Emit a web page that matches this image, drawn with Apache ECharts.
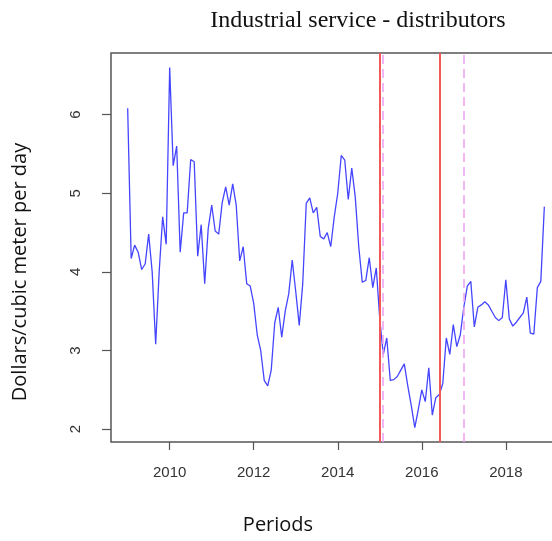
<!DOCTYPE html>
<html>
<head>
<meta charset="utf-8">
<script src="https://cdn.jsdelivr.net/npm/echarts@6/dist/echarts.min.js"></script>
<style>
  html, body { margin: 0; padding: 0; background: #fff; }
  #chart { width: 552px; height: 541px; }
</style>
</head>
<body>
<div id="chart"></div>
<script>
// Monthly price series, January 2009 onwards
const startYear = 2009;
const prices = [
  6.08, 4.17, 4.34, 4.25, 4.03, 4.10, 4.48, 4.00, 3.08, 4.00, 4.70, 4.35,
  6.60, 5.35, 5.60, 4.25, 4.75, 4.75, 5.43, 5.40, 4.20, 4.60, 3.85, 4.55,
  4.85, 4.52, 4.48, 4.88, 5.08, 4.85, 5.12, 4.85, 4.14, 4.32, 3.85, 3.82,
  3.60, 3.20, 3.00, 2.62, 2.55, 2.75, 3.35, 3.55, 3.17, 3.50, 3.72, 4.15,
  3.75, 3.32, 3.85, 4.87, 4.94, 4.75, 4.82, 4.45, 4.42, 4.50, 4.32, 4.70,
  5.00, 5.48, 5.42, 4.92, 5.32, 4.95, 4.32, 3.87, 3.89, 4.18, 3.80, 4.05,
  3.40, 2.95, 3.16, 2.62, 2.63, 2.67, 2.75, 2.83, 2.55, 2.30, 2.02, 2.25,
  2.50, 2.35, 2.78, 2.18, 2.40, 2.44, 2.58, 3.16, 2.95, 3.33, 3.05, 3.20,
  3.55, 3.82, 3.88, 3.30, 3.55, 3.58, 3.62, 3.58, 3.50, 3.42, 3.38, 3.42,
  3.90, 3.40, 3.31, 3.36, 3.42, 3.48, 3.68, 3.22, 3.21, 3.80, 3.88, 4.83
];

// Reference dates (decimal years)
const breakLines = [2015.0, 2016.417];
const markerLines = [2015.083, 2017.0];

const xTicks = [2010, 2012, 2014, 2016, 2018];
const yTicks = [2, 3, 4, 5, 6];

const titleText = 'Industrial service - distributors';
const xTitle = 'Periods';
const yTitle = 'Dollars/cubic meter per day';

const seriesData = prices.map((v, i) => [startYear + i / 12, v]);

// R-style padded ranges (4% on each side)
const xMinData = startYear, xMaxData = startYear + (prices.length - 1) / 12;
const xPad = (xMaxData - xMinData) * 0.04;
const yMinData = Math.min(...prices), yMaxData = Math.max(...prices);
const yPad = (yMaxData - yMinData) * 0.04;

const chart = echarts.init(document.getElementById('chart'), null, { renderer: 'canvas' });

const markData = [];
breakLines.forEach(x => markData.push({ xAxis: x, lineStyle: { color: '#f25a5a', width: 2, type: 'solid' } }));
markerLines.forEach(x => markData.push({ xAxis: x, lineStyle: { color: '#eea6f2', width: 1.6, type: [9, 5] } }));

chart.setOption({
  animation: false,
  backgroundColor: '#ffffff',
  title: {
    text: titleText,
    left: 353, top: 4, textAlign: 'center',
    textStyle: { fontFamily: 'Liberation Serif', fontWeight: 'normal', fontSize: 24, color: '#111' }
  },
  grid: {
    left: 111, top: 53, width: 450, height: 389,
    containLabel: false, outerBoundsMode: 'none',
    show: true, borderColor: '#555', borderWidth: 1.5, backgroundColor: 'transparent'
  },
  graphic: [
    {
      type: 'text', x: 278, y: 525,
      style: { text: xTitle, fontFamily: 'Open Sans', fontSize: 20, fill: '#111', align: 'center', verticalAlign: 'middle' }
    },
    {
      type: 'text', x: 20, y: 272, rotation: Math.PI / 2,
      style: { text: yTitle, fontFamily: 'Open Sans', fontSize: 20, fill: '#111', align: 'center', verticalAlign: 'middle' }
    }
  ],
  xAxis: {
    type: 'value',
    min: xMinData - xPad, max: xMaxData + xPad,
    axisLine: { show: false },
    splitLine: { show: false },
    axisTick: { show: true, inside: false, length: 8, lineStyle: { color: '#555', width: 1.2 }, customValues: xTicks },
    axisLabel: { customValues: xTicks, margin: 23, fontFamily: 'Liberation Sans', fontSize: 15, color: '#333',
      formatter: v => String(v) }
  },
  yAxis: {
    type: 'value',
    min: yMinData - yPad, max: yMaxData + yPad,
    axisLine: { show: false },
    splitLine: { show: false },
    axisTick: { show: true, inside: false, length: 9, lineStyle: { color: '#555', width: 1.2 }, customValues: yTicks },
    axisLabel: { customValues: yTicks, rotate: 90, margin: 28, fontFamily: 'Liberation Sans', fontSize: 15, color: '#333' }
  },
  series: [{
    type: 'line',
    data: seriesData,
    showSymbol: false,
    lineStyle: { color: '#4545ff', width: 1.3 },
    markLine: {
      silent: true, symbol: 'none', label: { show: false },
      data: markData
    }
  }]
});
</script>
</body>
</html>
